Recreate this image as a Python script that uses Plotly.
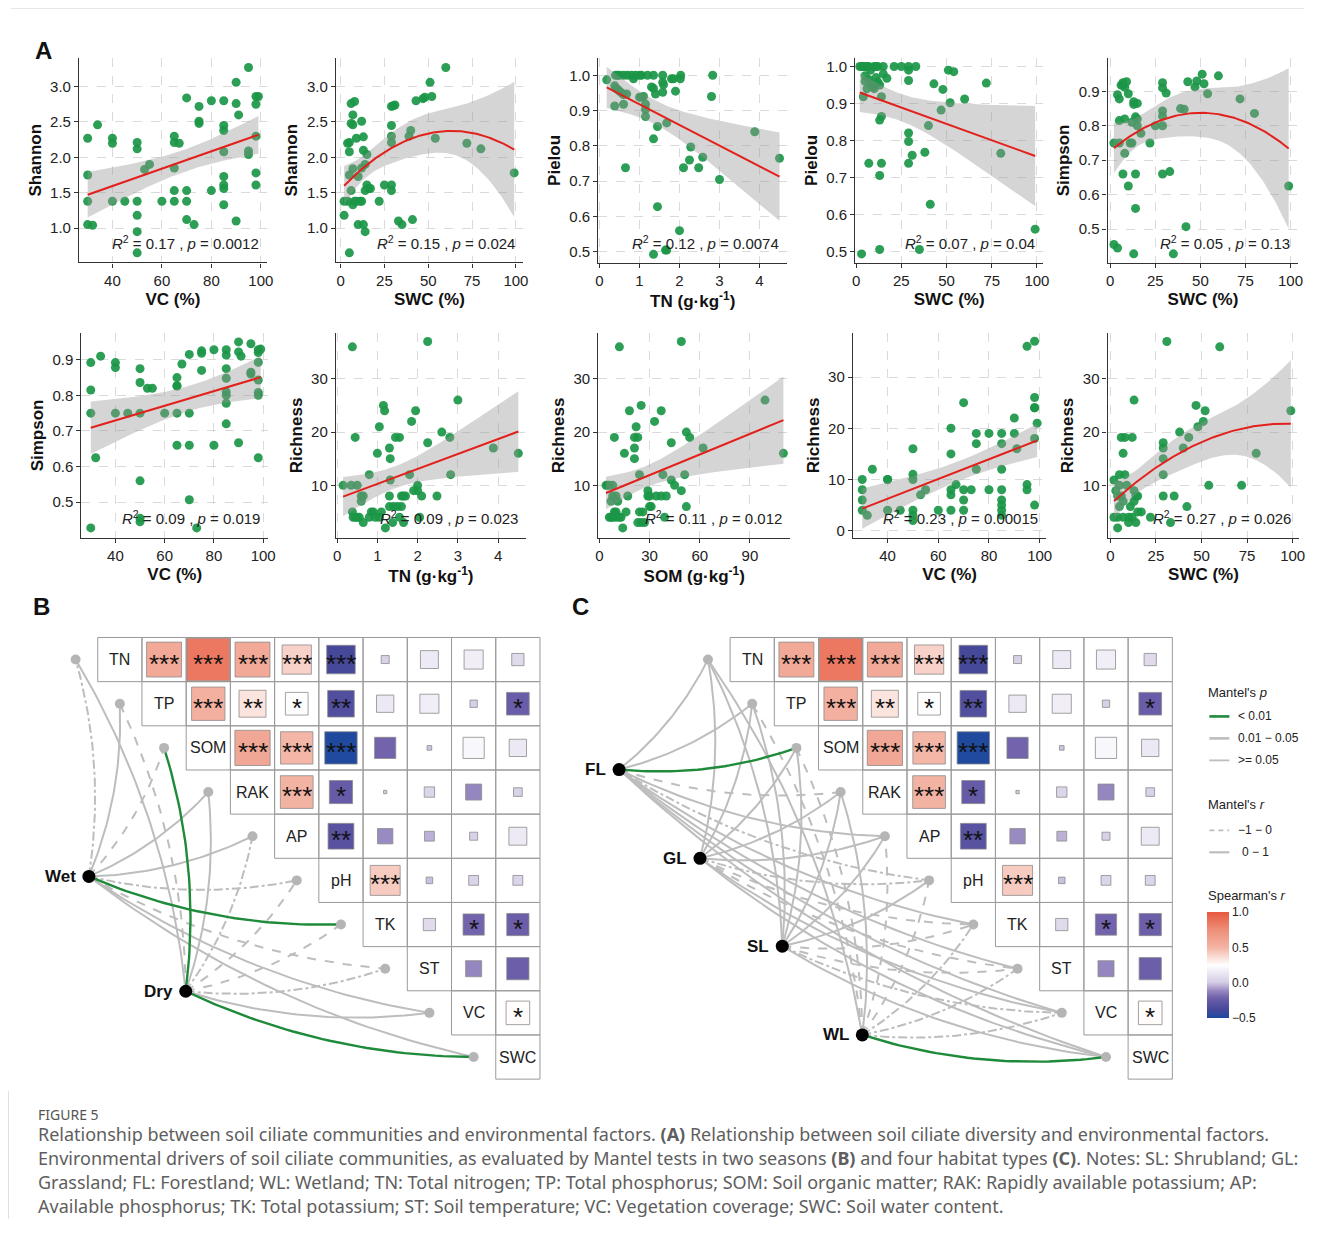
import numpy as np
import plotly.graph_objects as go

W, H = 1328, 1236          # reference canvas
OFF = 8                    # page body margin of the html page
WF, HF = 1304, 1212        # figure size
XS, XO = 0.991, 3.4        # observed horizontal screen mapping (screen = XS * page + XO)
FONT = "Liberation Sans, Arial, sans-serif"

# ------------------------------------------------------------------ data (panel A)
p1_x = [30,30,30,30,32,34,40,40,40,45,50,50,50,50,50,50,53,55,60,65,65,65,65,65,67,70,70,70,70,73,75,75,75,80,80,85,85,85,85,85,85,85,85,90,90,90,91,95,95,95,98,98,98,98,98,99]
p1_y = [2.27,1.75,1.38,1.05,1.04,2.46,2.27,2.20,1.38,1.38,2.21,2.12,1.38,1.18,0.95,0.65,1.83,1.90,1.38,2.30,2.21,1.85,1.53,1.38,2.20,2.84,1.53,1.38,1.12,1.05,2.72,2.51,2.48,2.80,1.53,2.80,2.45,2.38,2.08,1.73,1.61,1.56,1.33,3.06,2.76,1.10,2.60,3.27,2.09,2.04,2.86,2.75,2.30,1.78,1.61,2.86]

p2_x = [2,2,4,4,5,5,5,5,6,6,6,7,7,7,7,8,8,9,9,10,10,11,12,12,12,13,13,13,14,14,14,15,15,16,17,22,25,29,29,29,29,29,29,30,31,33,35,39,40,41,43,47,48,51,52,54,60,72,80,99]
p2_y = [1.38,1.18,2.20,1.38,2.21,2.08,1.75,0.65,2.48,2.76,1.53,2.60,2.46,1.84,1.33,2.79,1.38,2.27,1.38,1.05,1.73,1.38,2.51,1.38,1.85,2.10,2.29,1.05,0.95,1.53,1.90,1.61,2.04,1.56,1.56,1.38,1.61,2.72,2.45,2.30,2.21,1.61,1.53,2.73,2.74,1.10,1.05,2.30,2.38,1.12,2.80,2.83,2.85,3.06,2.86,2.27,3.27,2.20,2.12,1.78]

p3_x = [0.18,0.40,0.45,0.50,0.60,0.70,0.80,0.85,0.90,1.00,1.05,1.20,1.35,1.58,2.03,2.83,0.38,0.42,0.45,0.50,0.55,0.60,0.68,0.38,0.60,0.65,1.00,1.05,1.10,1.15,1.15,1.15,1.30,1.35,1.40,1.35,1.45,1.45,1.35,1.58,1.60,1.58,1.68,1.65,1.68,1.80,1.85,1.90,2.02,2.00,2.10,2.25,2.28,2.48,2.58,2.80,3.00,3.88,4.50]
p3_y = [0.987,1.0,1.0,1.0,1.0,1.0,1.0,0.99,1.0,1.0,1.0,1.0,1.0,1.0,1.0,1.0,0.970,0.962,0.960,0.955,0.950,0.945,0.947,0.913,0.918,0.738,0.938,0.938,0.940,0.918,0.903,0.883,0.967,0.963,0.947,0.820,0.855,0.628,0.493,0.980,0.973,0.952,0.865,0.505,0.505,0.990,0.990,0.955,0.990,0.560,0.738,0.760,0.797,0.738,0.768,0.940,0.705,0.840,0.765]

p4_x = [2,3,4,5,6,7,8,10,11,12,15,21,25,29,29,33,51,54,5,5,6,7,8,9,10,11,12,13,15,17,4,14,13,14,29,43,48,52,60,72,47,40,80,29,29,31,38,29,7,14,13,41,99,3,13,35]
p4_y = [1.0,1.0,1.0,1.0,1.0,1.0,0.99,1.0,1.0,1.0,1.0,1.0,1.0,1.0,0.99,1.0,0.99,0.986,0.975,0.960,0.940,0.965,0.955,0.945,0.940,0.970,0.958,0.950,0.980,0.968,0.918,0.918,0.855,0.865,0.962,0.953,0.938,0.902,0.912,0.955,0.882,0.840,0.765,0.820,0.797,0.760,0.768,0.738,0.738,0.738,0.705,0.627,0.560,0.493,0.505,0.505]

p5_x = [2,2,4,4,5,5,5,6,7,7,7,8,8,8,9,10,10,11,12,12,13,13,13,14,14,14,15,15,15,17,22,25,29,29,29,29,29,29,31,33,35,39,41,42,43,47,48,51,52,54,60,72,80,99]
p5_y = [0.75,0.455,0.89,0.445,0.878,0.815,0.75,0.918,0.925,0.918,0.66,0.912,0.82,0.72,0.928,0.893,0.625,0.75,0.75,0.81,0.87,0.862,0.428,0.826,0.66,0.56,0.865,0.80,0.82,0.778,0.75,0.80,0.925,0.91,0.843,0.828,0.80,0.66,0.895,0.667,0.428,0.85,0.848,0.507,0.928,0.913,0.93,0.95,0.922,0.893,0.945,0.878,0.836,0.625]

p6_x = [30,30,30,30,32,34,40,40,40,45,50,50,50,50,50,50,53,55,60,65,65,65,65,65,67,70,70,70,70,73,75,75,75,80,80,85,85,85,85,85,85,85,85,90,90,90,91,95,95,95,98,98,98,98,98,98,98,99]
p6_y = [0.892,0.815,0.75,0.428,0.625,0.91,0.892,0.878,0.75,0.75,0.875,0.836,0.75,0.56,0.455,0.445,0.82,0.82,0.75,0.85,0.827,0.826,0.75,0.66,0.888,0.915,0.75,0.66,0.507,0.428,0.925,0.918,0.87,0.928,0.66,0.928,0.913,0.875,0.848,0.81,0.80,0.778,0.72,0.95,0.922,0.667,0.91,0.945,0.865,0.86,0.928,0.92,0.893,0.843,0.808,0.80,0.625,0.93]

p7_x = [0.15,0.35,0.50,0.38,0.45,0.38,0.40,0.45,0.50,0.55,0.60,0.60,0.65,0.65,0.80,0.80,0.85,0.90,0.95,1.00,1.05,1.05,1.10,1.15,1.18,1.20,1.30,1.32,1.32,1.30,1.30,1.38,1.40,1.45,1.55,1.50,1.55,1.60,1.60,1.65,1.65,1.70,1.80,1.85,1.90,1.95,2.00,2.00,2.05,2.10,2.25,2.25,2.48,2.60,2.80,2.82,3.00,3.88,4.50]
p7_y = [10,10,10,36,19,5,4,4,4,4,8,7,8,3,12,4,5,5,4,16,21,4,5,25,24,2,17,15,11,8,6,3,6,19,19,6,4,8,6,8,3,8,12,22,9,24,10,9,4,8,37,18,8,20,19,12,26,17,16]

p8_x = [4,5,6,8,7,8,10,11,6,7,8,9,10,10,12,13,14,12,9,15,16,17,18,21,21,21,22,23,24,23,24,25,25,26,27,29,29,30,30,31,33,34,37,37,38,39,40,43,43,45,49,49,51,52,52,54,62,99,110]
p8_y = [10,10,10,10,7,8,8,7,4,4,4,5,5,4,4,4,2,36,19,16,5,8,24,19,17,15,21,19,12,3,5,25,3,5,3,9,8,8,6,6,22,8,8,24,12,4,8,18,11,10,37,9,12,20,6,19,17,26,16]

p9_x = [30,30,30,30,32,34,40,40,40,45,50,50,50,50,50,50,53,55,60,65,65,65,65,65,67,70,70,70,70,73,75,75,75,80,80,85,85,85,85,85,85,85,85,90,90,91,95,95,95,98,98,98,98,98,98,99]
p9_y = [10,8,6,4,3,12,10,10,4,4,16,11,10,4,3,2,7,8,4,20,15,8,7,4,9,25,8,6,4,8,19,17,12,19,8,19,17,12,8,6,5,4,3,22,19,16,36,9,8,37,26,24,24,18,5,21]

p10_x = [2,2,3,4,4,4,5,5,5,6,6,7,7,7,8,8,9,10,10,11,12,12,13,13,13,14,14,15,15,17,22,29,29,29,29,29,33,35,38,40,42,43,47,48,51,52,54,60,31,72,80,99]
p10_y = [11,4,9,8,4,2,12,10,6,19,8,16,7,4,19,12,10,4,3,6,4,19,26,7,9,8,3,8,5,5,4,18,17,15,12,8,3,8,20,17,6,19,25,21,22,24,10,36,37,10,16,24]

stat_r2 = ["0.17", "0.15", "0.12", "0.07", "0.05", "0.09", "0.09", "0.11", "0.23", "0.27"]
stat_p = ["0.0012", "0.024", "0.0074", "0.04", "0.13", "0.019", "0.023", "0.012", "0.00015", "0.026"]

# ------------------------------------------------------------------ data (panels B, C)
env_vars = ["TN", "TP", "SOM", "RAK", "AP", "pH", "TK", "ST", "VC", "SWC"]
spearman_r = [
    [0.57, 0.85, 0.57, 0.40, -0.38, 0.03, 0.15, 0.17, 0.07],
    [0.52, 0.34, 0.24, -0.33, 0.14, 0.17, 0.025, -0.24],
    [0.58, 0.49, -0.49, -0.21, -0.01, 0.21, 0.14],
    [0.50, -0.25, 0.005, 0.05, -0.12, 0.035],
    [-0.31, -0.11, -0.045, 0.03, 0.15],
    [0.42, -0.02, 0.045, 0.045],
    [0.07, -0.21, -0.23],
    [-0.12, -0.23],
    [0.26],
]
spearman_sig = [
    ["***", "***", "***", "***", "***", "", "", "", ""],
    ["***", "**", "*", "**", "", "", "", "*"],
    ["***", "***", "***", "", "", "", ""],
    ["***", "*", "", "", "", ""],
    ["**", "", "", "", ""],
    ["***", "", "", ""],
    ["", "*", "*"],
    ["", ""],
    ["*"],
]
# link classes: G = p<0.01, S = r>0 (0.01-1), D / DD = r<0 (dashed variants)
season_groups = ["Wet", "Dry"]
season_links = [
    ["DD", "S", "D", "S", "S", "DD", "G", "D", "S", "S"],
    ["S", "D", "G", "S", "DD", "D", "D", "DD", "S", "G"],
]
habitat_groups = ["FL", "GL", "SL", "WL"]
habitat_links = [
    ["S", "S", "G", "D", "S", "DD", "S", "S", "S", "S"],
    ["S", "S", "S", "S", "S", "DD", "D", "D", "S", "S"],
    ["S", "S", "S", "S", "S", "S", "D", "D", "DD", "S"],
    ["S", "D", "D", "S", "D", "D", "DD", "DD", "DD", "G"],
]

caption_lines = [
    "Relationship between soil ciliate communities and environmental factors. <b>(A)</b> Relationship between soil ciliate diversity and environmental factors.",
    "Environmental drivers of soil ciliate communities, as evaluated by Mantel tests in two seasons <b>(B)</b> and four habitat types <b>(C)</b>. Notes: SL: Shrubland; GL:",
    "Grassland; FL: Forestland; WL: Wetland; TN: Total nitrogen; TP: Total phosphorus; SOM: Soil organic matter; RAK: Rapidly available potassium; AP:",
    "Available phosphorus; TK: Total potassium; ST: Soil temperature; VC: Vegetation coverage; SWC: Soil water content.",
]

# ------------------------------------------------------------------ helpers
def PX(p):
    page = (p - XO) / XS
    return (page - OFF) / WF


def PY(p):
    return 1 - (p - OFF) / HF


def fit_band(x, y, deg, n=100):
    x = np.asarray(x, float)
    y = np.asarray(y, float)
    X = np.vander(x, deg + 1, increasing=True)
    beta, *_ = np.linalg.lstsq(X, y, rcond=None)
    res = y - X @ beta
    dof = len(x) - (deg + 1)
    s2 = res @ res / dof
    cov = s2 * np.linalg.inv(X.T @ X)
    xs = np.linspace(x.min(), x.max(), n)
    Xs = np.vander(xs, deg + 1, increasing=True)
    yh = Xs @ beta
    se = np.sqrt(np.einsum("ij,jk,ik->i", Xs, cov, Xs))
    t = 2.003
    return xs, yh, yh - t * se, yh + t * se


def hex2rgb(h):
    h = h.lstrip("#")
    return [int(h[i:i + 2], 16) for i in (0, 2, 4)]


CS_PTS = [(-0.5, "#1C4A9E"), (-0.38, "#46489A"), (-0.22, "#6E5FAA"), (-0.11, "#9A8AC2"),
          (0.0, "#D4CBE5"), (0.25, "#FFFFFF"), (0.5, "#F3B3A3"), (0.75, "#EE8E78"), (1.0, "#E8583F")]
CS = [[(v + 0.5) / 1.5, c] for v, c in CS_PTS]


def r_color(r):
    vs = [v for v, _ in CS_PTS]
    cols = np.array([hex2rgb(c) for _, c in CS_PTS], float)
    r = min(max(r, -0.5), 1.0)
    rgb = [np.interp(r, vs, cols[:, k]) for k in range(3)]
    return "rgb(%d,%d,%d)" % tuple(int(round(v)) for v in rgb)


fig = go.Figure()
layout = dict(width=WF, height=HF, margin=dict(l=0, r=0, t=0, b=0),
              paper_bgcolor="white", plot_bgcolor="white", showlegend=False,
              font=dict(family=FONT, color="#222"))
annotations = []
shapes = []

# ------------------------------------------------------------------ panel A
specs = [
    (p1_x, p1_y, 1, (79.3, 267, 58, 262.7), (26.5, 102.4), (0.514, 3.405), [40, 60, 80, 100], [1.0, 1.5, 2.0, 2.5, 3.0], ".1f", "VC (%)", "Shannon"),
    (p2_x, p2_y, 2, (336, 523, 58, 262.7), (-2.7, 104), (0.514, 3.405), [0, 25, 50, 75, 100], [1.0, 1.5, 2.0, 2.5, 3.0], ".1f", "SWC (%)", "Shannon"),
    (p3_x, p3_y, 1, (598.3, 787, 58, 263), (-0.03, 4.69), (0.469, 1.049), [0, 1, 2, 3, 4], [0.5, 0.6, 0.7, 0.8, 0.9, 1.0], ".1f", "TN (g·kg<sup>-1</sup>)", "Pielou"),
    (p4_x, p4_y, 1, (855, 1043, 58, 263), (-0.55, 103.5), (0.469, 1.023), [0, 25, 50, 75, 100], [0.5, 0.6, 0.7, 0.8, 0.9, 1.0], ".1f", "SWC (%)", "Pielou"),
    (p5_x, p5_y, 2, (1107.3, 1298, 58, 263), (-1.5, 104.4), (0.402, 0.997), [0, 25, 50, 75, 100], [0.5, 0.6, 0.7, 0.8, 0.9], ".1f", "SWC (%)", "Simpson"),
    (p6_x, p6_y, 1, (81.7, 268.3, 333.3, 538.3), (26.2, 102.0), (0.400, 0.975), [40, 60, 80, 100], [0.5, 0.6, 0.7, 0.8, 0.9], ".1f", "VC (%)", "Simpson"),
    (p7_x, p7_y, 1, (336, 526, 333.3, 538.3), (-0.03, 4.69), (0.13, 38.6), [0, 1, 2, 3, 4], [10, 20, 30], "d", "TN (g·kg<sup>-1</sup>)", "Richness"),
    (p8_x, p8_y, 1, (598.3, 790, 333.3, 538.3), (-0.6, 114), (0.13, 38.6), [0, 30, 60, 90], [10, 20, 30], "d", "SOM (g·kg<sup>-1</sup>)", "Richness"),
    (p9_x, p9_y, 1, (852.7, 1046, 333.3, 538.3), (26.3, 102.6), (-1.4, 38.6), [40, 60, 80, 100], [0, 10, 20, 30], "d", "VC (%)", "Richness"),
    (p10_x, p10_y, 2, (1107.3, 1299, 333.3, 538.3), (-1.5, 103.7), (0.13, 38.6), [0, 25, 50, 75, 100], [10, 20, 30], "d", "SWC (%)", "Richness"),
]

axis_common = dict(showline=True, linecolor="#333", linewidth=1.2, ticks="outside", ticklen=4,
                   tickcolor="#333", tickwidth=1.1, showgrid=True, gridcolor="#DADADA", griddash="dash",
                   gridwidth=1, zeroline=False, tickfont=dict(size=15, color="#222", family=FONT))

for k, (xd, yd, deg, box, xr, yr, xt, yt, yfmt, xtitle, ytitle) in enumerate(specs, start=1):
    sfx = "" if k == 1 else str(k)
    xa, ya = "x" + sfx, "y" + sfx
    x0, x1, y0, y1 = box
    layout["xaxis" + sfx] = dict(axis_common, domain=[PX(x0), PX(x1)], range=list(xr), anchor=ya,
                                 tickvals=xt, title=dict(text="<b>%s</b>" % xtitle, font=dict(size=17, color="#111"), standoff=5))
    layout["yaxis" + sfx] = dict(axis_common, domain=[PY(y1), PY(y0)], range=list(yr), anchor=xa,
                                 tickvals=yt, tickformat=yfmt, title=dict(text="<b>%s</b>" % ytitle, font=dict(size=17, color="#111"), standoff=4))
    fig.add_trace(go.Scatter(x=xd, y=yd, mode="markers", xaxis=xa, yaxis=ya,
                             marker=dict(size=9, color="rgba(27,150,70,0.92)", line=dict(width=0)), hoverinfo="skip"))
    xs, yh, lo, hi = fit_band(xd, yd, deg)
    fig.add_trace(go.Scatter(x=np.concatenate([xs, xs[::-1]]), y=np.concatenate([hi, lo[::-1]]),
                             mode="lines", fill="toself", fillcolor="rgba(150,150,150,0.40)",
                             line=dict(width=0, color="rgba(0,0,0,0)"), xaxis=xa, yaxis=ya, hoverinfo="skip"))
    fig.add_trace(go.Scatter(x=xs, y=yh, mode="lines", line=dict(color="#E3211C", width=2),
                             xaxis=xa, yaxis=ya, hoverinfo="skip"))
    annotations.append(dict(x=PX(x1 - 6), y=PY(y1 - 20), xref="paper", yref="paper", xanchor="right", yanchor="middle",
                            showarrow=False, font=dict(size=15, color="#222", family=FONT),
                            text="<i>R</i><sup>2</sup> = %s , <i>p</i> = %s" % (stat_r2[k - 1], stat_p[k - 1])))

# ------------------------------------------------------------------ panels B, C (Mantel)
GRID = 44.2
TOP = 638.0
LINK_STYLE = {
    "G": dict(color="#1E8A3A", width=2.4, dash="solid"),
    "S": dict(color="#BDBDBD", width=2.0, dash="solid"),
    "D": dict(color="#BDBDBD", width=2.0, dash="dash"),
    "DD": dict(color="#BDBDBD", width=2.0, dash="dashdot"),
}


def curve(p0, p2, k=0.11, n=40):
    (x0, y0), (x2, y2) = p0, p2
    dx, dy = x2 - x0, y2 - y0
    cx, cy = (x0 + x2) / 2 - k * dy, (y0 + y2) / 2 + k * dx
    t = np.linspace(0, 1, n)
    bx = (1 - t) ** 2 * x0 + 2 * (1 - t) * t * cx + t ** 2 * x2
    by = (1 - t) ** 2 * y0 + 2 * (1 - t) * t * cy + t ** 2 * y2
    return bx, by


def mantel_panel(idx, left_px, px0, px1, groups, links, node_pos):
    xa, ya = "x%d" % idx, "y%d" % idx
    layout["xaxis%d" % idx] = dict(domain=[PX(px0), PX(px1)], range=[(px0 - left_px) / GRID, (px1 - left_px) / GRID],
                                   visible=False, anchor=ya, fixedrange=True)
    layout["yaxis%d" % idx] = dict(domain=[PY(1090), PY(625)], range=[(1090 - TOP) / GRID, (625 - TOP) / GRID],
                                   visible=False, anchor=xa, fixedrange=True)
    n = len(env_vars)
    rmax = max(abs(v) for row in spearman_r for v in row)
    for i in range(n):
        for j in range(i, n):
            shapes.append(dict(type="rect", xref=xa, yref=ya, x0=j, x1=j + 1, y0=i, y1=i + 1,
                               line=dict(color="#9A9A9A", width=1), fillcolor="rgba(0,0,0,0)", layer="above"))
    for i, row in enumerate(spearman_r):
        for jj, r in enumerate(row):
            j = i + 1 + jj
            s = 0.965 * np.sqrt(abs(r) / rmax)
            cx, cy = j + 0.5, i + 0.5
            shapes.append(dict(type="rect", xref=xa, yref=ya, x0=cx - s / 2, x1=cx + s / 2, y0=cy - s / 2, y1=cy + s / 2,
                               line=dict(color="#8C8C8C", width=0.8), fillcolor=r_color(r), layer="above"))
            sig = spearman_sig[i][jj]
            if sig:
                annotations.append(dict(x=cx, y=cy, xref=xa, yref=ya, text=sig, showarrow=False, yshift=-4,
                                        font=dict(size=26, color="#111", family=FONT)))
    for i, name in enumerate(env_vars):
        annotations.append(dict(x=i + 0.5, y=i + 0.5, xref=xa, yref=ya, text=name, showarrow=False,
                                font=dict(size=16, color="#222", family=FONT)))
    targets = [(i - 0.5, i + 0.5) for i in range(n)]
    for want in ("S", "D", "DD", "G"):
        for g, glinks in enumerate(links):
            for t, code in enumerate(glinks):
                if code != want:
                    continue
                bx, by = curve(node_pos[g], targets[t])
                fig.add_trace(go.Scatter(x=bx, y=by, mode="lines", xaxis=xa, yaxis=ya, line=LINK_STYLE[code], hoverinfo="skip"))
    fig.add_trace(go.Scatter(x=[p[0] for p in targets], y=[p[1] for p in targets], mode="markers", xaxis=xa, yaxis=ya,
                             marker=dict(size=10, color="#B5B5B5"), hoverinfo="skip"))
    fig.add_trace(go.Scatter(x=[p[0] for p in node_pos], y=[p[1] for p in node_pos], mode="markers", xaxis=xa, yaxis=ya,
                             marker=dict(size=13, color="black"), hoverinfo="skip"))
    for g, gname in enumerate(groups):
        annotations.append(dict(x=node_pos[g][0], y=node_pos[g][1], xref=xa, yref=ya, text="<b>%s</b>" % gname,
                                showarrow=False, xanchor="right", xshift=-11, font=dict(size=17, color="#111", family=FONT)))


mantel_panel(11, 98, 30, 560, season_groups, season_links, [(-0.2, 5.41), (1.99, 8.01)])
mantel_panel(12, 730, 570, 1190, habitat_groups, habitat_links, [(-2.51, 2.99), (-0.68, 5.0), (1.18, 6.99), (2.99, 9.0)])

# colour bar for Spearman's r
fig.add_trace(go.Scatter(x=[-50], y=[-50], xaxis="x12", yaxis="y12", mode="markers", hoverinfo="skip",
                         marker=dict(size=1, color=[0.0], colorscale=CS, cmin=-0.5, cmax=1.0, showscale=True,
                                     colorbar=dict(x=PX(1207), xanchor="left", y=PY(1019), yanchor="bottom",
                                                   len=106, lenmode="pixels", thickness=22, thicknessmode="pixels",
                                                   xpad=0, ypad=0, outlinewidth=0, ticks="",
                                                   tickvals=[-0.5, 0.0, 0.5, 1.0], ticktext=["\u22120.5", "0.0", "0.5", "1.0"],
                                                   tickfont=dict(size=12, color="#222", family=FONT)))))


def leg_text(x, y, text, size=12):
    annotations.append(dict(x=PX(x), y=PY(y), xref="paper", yref="paper", text=text, showarrow=False,
                            xanchor="left", yanchor="middle", font=dict(size=size, color="#222", family=FONT)))


def leg_line(y, color, width, dash="solid"):
    shapes.append(dict(type="line", xref="paper", yref="paper", x0=PX(1209), x1=PX(1229), y0=PY(y), y1=PY(y),
                       line=dict(color=color, width=width, dash=dash)))


leg_text(1206, 693, "Mantel's <i>p</i>", 13)
leg_line(717, "#1E8A3A", 2.6); leg_text(1236, 717, "< 0.01")
leg_line(739, "#BDBDBD", 2.6); leg_text(1236, 739, "0.01 \u2212 0.05")
leg_line(761, "#BDBDBD", 1.8); leg_text(1236, 761, ">= 0.05")
leg_text(1206, 805, "Mantel's <i>r</i>", 13)
leg_line(831, "#BDBDBD", 1.8, "5px,4px"); leg_text(1236, 831, "\u22121 \u2212 0")
leg_line(853, "#BDBDBD", 2.2); leg_text(1240, 853, "0 \u2212 1")
leg_text(1206, 896, "Spearman's <i>r</i>", 13)

for letter, x, y in [("A", 33, 51), ("B", 31, 607), ("C", 570, 607)]:
    annotations.append(dict(x=PX(x), y=PY(y), xref="paper", yref="paper", text="<b>%s</b>" % letter, showarrow=False,
                            xanchor="left", yanchor="middle", font=dict(size=24, color="#111", family=FONT)))

CAP_FONT = "Noto Sans, Open Sans, sans-serif"
annotations.append(dict(x=PX(36), y=PY(1115), xref="paper", yref="paper", text="FIGURE 5", showarrow=False,
                        xanchor="left", yanchor="middle", font=dict(size=14, color="#555", family=CAP_FONT)))
for i, line in enumerate(caption_lines):
    annotations.append(dict(x=PX(36), y=PY(1135 + 24 * i), xref="paper", yref="paper", text=line, showarrow=False,
                            xanchor="left", yanchor="middle", font=dict(size=18, color="#5E5E5E", family=CAP_FONT)))

shapes.append(dict(type="line", xref="paper", yref="paper", x0=0, x1=1, y0=PY(8), y1=PY(8), line=dict(color="#D0D0D0", width=1)))
shapes.append(dict(type="line", xref="paper", yref="paper", x0=PX(8.5), x1=PX(8.5), y0=PY(1092), y1=0, line=dict(color="#D0D0D0", width=1)))

layout["annotations"] = annotations
layout["shapes"] = shapes
fig.update_layout(**layout)
fig.write_html("out.html")
